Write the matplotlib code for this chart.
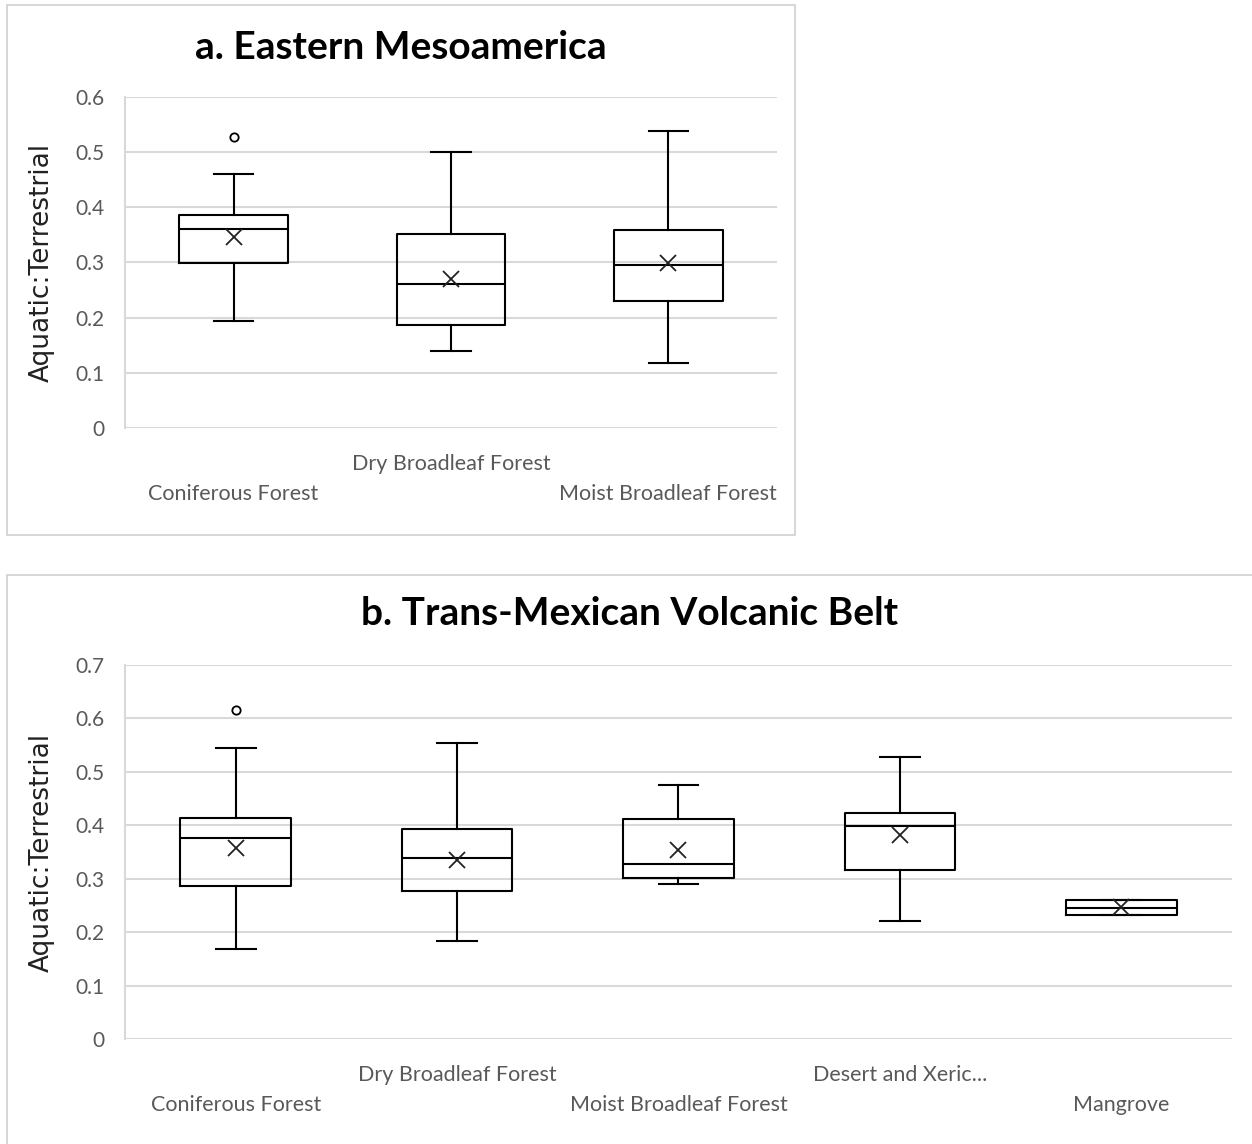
import matplotlib.pyplot as plt
from matplotlib.patches import Rectangle
from matplotlib.ticker import FuncFormatter

# Panel a: Eastern Mesoamerica
a_biomes = ['Coniferous Forest', 'Dry Broadleaf Forest', 'Moist Broadleaf Forest']
a_whislo = [0.194, 0.140, 0.118]
a_q1 = [0.299, 0.187, 0.230]
a_med = [0.361, 0.261, 0.295]
a_q3 = [0.386, 0.352, 0.359]
a_whishi = [0.460, 0.500, 0.538]
a_mean = [0.346, 0.270, 0.299]
a_fliers = [[0.527], [], []]

# Panel b: Trans-Mexican Volcanic Belt
b_biomes = ['Coniferous Forest', 'Dry Broadleaf Forest', 'Moist Broadleaf Forest',
            'Desert and Xeric...', 'Mangrove']
b_whislo = [0.168, 0.183, 0.290, 0.221, 0.232]
b_q1 = [0.286, 0.277, 0.301, 0.316, 0.232]
b_med = [0.376, 0.339, 0.328, 0.399, 0.245]
b_q3 = [0.414, 0.393, 0.412, 0.423, 0.260]
b_whishi = [0.545, 0.554, 0.475, 0.528, 0.260]
b_mean = [0.357, 0.335, 0.354, 0.382, 0.247]
b_fliers = [[0.616], [], [], [], []]

GRID = '#d9d9d9'
TICK = '#595959'
FONT = 'Lato'


def make_stats(names, lo, q1, med, q3, hi, mean, fliers):
    stats = []
    for i in range(len(names)):
        stats.append(dict(label=names[i], whislo=lo[i], q1=q1[i], med=med[i],
                          q3=q3[i], whishi=hi[i], mean=mean[i], fliers=fliers[i]))
    return stats


def draw_panel(ax, stats, ymax, label_x):
    line = dict(color='black', linewidth=1.5)
    ax.bxp(stats, positions=range(len(stats)), widths=0.5, capwidths=0.18,
           showmeans=True, meanline=False,
           boxprops=line, whiskerprops=line, capprops=line, medianprops=line,
           meanprops=dict(marker='x', markersize=12, markeredgecolor='#222222',
                          markeredgewidth=1.3),
           flierprops=dict(marker='o', markersize=6, markerfacecolor='none',
                           markeredgecolor='black', markeredgewidth=1.3))
    ax.set_xlim(-0.5, len(stats) - 0.5)
    ax.set_ylim(0, ymax)
    ax.set_yticks([i / 10 for i in range(int(round(ymax * 10)) + 1)])
    ax.yaxis.set_major_formatter(FuncFormatter(lambda v, p: '0' if v == 0 else f'{v:.1f}'))
    ax.grid(axis='y', color=GRID, linewidth=1.5)
    ax.set_axisbelow(True)
    for s in ['top', 'right', 'bottom']:
        ax.spines[s].set_visible(False)
    ax.spines['left'].set_color(GRID)
    ax.spines['left'].set_linewidth(1.5)
    # alternate the category labels on two rows
    labels = [s['label'] if i % 2 else '\n' + s['label'] for i, s in enumerate(stats)]
    ax.set_xticks(range(len(stats)))
    ax.set_xticklabels(labels, fontsize=15.5, color=TICK, family=FONT, linespacing=1.6)
    ax.tick_params(axis='x', length=0, pad=19)
    ax.tick_params(axis='y', length=0, pad=15, labelsize=15, labelcolor=TICK)
    for t in ax.get_yticklabels():
        t.set_family(FONT)
    ax.set_ylabel('Aquatic:Terrestrial', fontsize=19, family='DejaVu Sans', color='#222222')
    ax.yaxis.set_label_coords(label_x, 0.5)


fig = plt.figure(figsize=(12.52, 11.44), dpi=100)

# chart-area borders
fig.add_artist(Rectangle((0.0056, 0.5323), 0.6294, 0.4633, transform=fig.transFigure,
                         fill=False, edgecolor='#d0d0d0', linewidth=1.2))
fig.add_artist(Rectangle((0.0056, -0.01), 1.0, 0.5074, transform=fig.transFigure,
                         fill=False, edgecolor='#d0d0d0', linewidth=1.2))

ax1 = fig.add_axes([0.0998, 0.6259, 0.5208, 0.2893])
draw_panel(ax1, make_stats(a_biomes, a_whislo, a_q1, a_med, a_q3, a_whishi, a_mean, a_fliers),
           0.6, -0.107)

ax2 = fig.add_axes([0.0998, 0.0918, 0.8842, 0.3269])
draw_panel(ax2, make_stats(b_biomes, b_whislo, b_q1, b_med, b_q3, b_whishi, b_mean, b_fliers),
           0.7, -0.063)

# titles centred on each chart area
fig.text(0.3203, 0.9585, 'a. Eastern Mesoamerica', fontsize=28, fontweight='bold',
         family=FONT, ha='center', va='center')
fig.text(0.503, 0.4635, 'b. Trans-Mexican Volcanic Belt', fontsize=28, fontweight='bold',
         family=FONT, ha='center', va='center')

fig.savefig('out.png', dpi=100)
